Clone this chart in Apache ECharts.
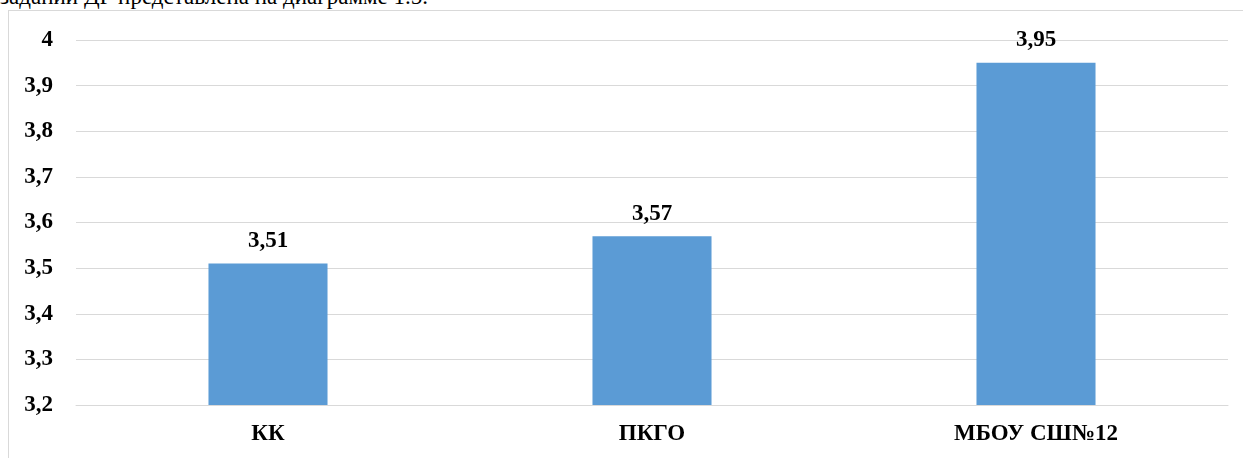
<!DOCTYPE html>
<html>
<head>
<meta charset="utf-8">
<script src="https://cdn.jsdelivr.net/npm/echarts@6/dist/echarts.min.js"></script>
<style>
  html, body { margin: 0; padding: 0; background: #fff; width: 1243px; height: 458px; overflow: hidden; }
  #caption { position: absolute; left: 0; top: -16px; font-family: "Liberation Serif", "Times New Roman", serif; font-size: 23px; color: #000; white-space: nowrap; }
  #frame { position: absolute; left: 8px; top: 10px; width: 1300px; height: 500px; border-left: 1px solid #d9d9d9; border-top: 1px solid #d9d9d9; }
  #chart { position: absolute; left: 0; top: 0; width: 1243px; height: 458px; }
</style>
</head>
<body>
<div id="caption">заданий ДР представлена на диаграмме 1.5.</div>
<div id="frame"></div>
<div id="chart"></div>
<script>
const categories = ["КК", "ПКГО", "МБОУ СШ№12"];
const values = [3.51, 3.57, 3.95];
const yMin = 3.2, yMax = 4, yStep = 0.1;

const fmt = v => (Math.round(v * 100) / 100).toString().replace('.', ',');
const font = '"Liberation Serif", "Times New Roman", serif';

const chart = echarts.init(document.getElementById('chart'));
chart.setOption({
  animation: false,
  grid: { left: 76, right: 15, top: 40, bottom: 53 },
  xAxis: {
    type: 'category',
    data: categories,
    axisLine: { show: true, lineStyle: { color: '#d9d9d9', width: 1 } },
    axisTick: { show: false },
    axisLabel: { margin: 18, fontFamily: font, fontSize: 23, fontWeight: 'bold', color: '#000' }
  },
  yAxis: {
    type: 'value',
    min: yMin, max: yMax, interval: yStep,
    axisLine: { show: false },
    axisTick: { show: false },
    splitLine: { lineStyle: { color: '#d9d9d9', width: 1 } },
    axisLabel: { margin: 23, fontFamily: font, fontSize: 23, fontWeight: 'bold', color: '#000',
      formatter: v => fmt(v) }
  },
  series: [{
    type: 'bar',
    data: values,
    barWidth: '31%',
    itemStyle: { color: '#5b9bd5' },
    label: { show: true, position: 'top', distance: 11, fontFamily: font, fontSize: 23, fontWeight: 'bold', color: '#000',
      formatter: p => fmt(p.value) }
  }]
});
</script>
</body>
</html>
